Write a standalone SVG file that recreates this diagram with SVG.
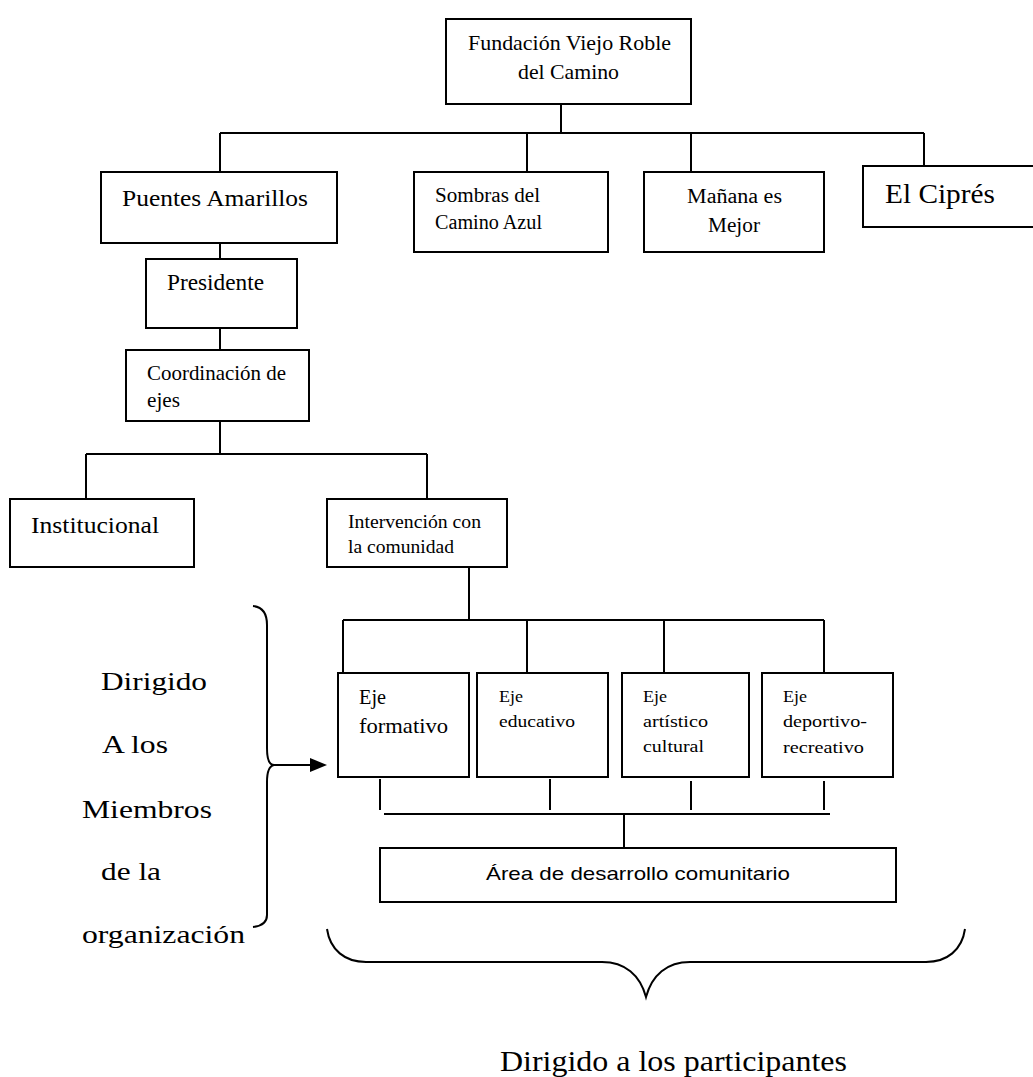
<svg xmlns="http://www.w3.org/2000/svg" width="1033" height="1077" viewBox="0 0 1033 1077">
<style>
.box{fill:#fff;stroke:#000;stroke-width:2}
.ln{fill:none;stroke:#000;stroke-width:2}
.s{font-family:"Liberation Serif","Times New Roman",serif;fill:#000}
.a{font-family:"Liberation Sans",Arial,sans-serif;fill:#000}
</style>
<rect width="1033" height="1077" fill="#fff"/>
<g id="connectors" class="ln">
<path d="M561,99 V133 M220,133 H924 M220,133 V172 M527,133 V177 M691,133 V176 M924,133 V170"/>
<path d="M220,222 V259 M220,323 V350 M220,416 V454 M86,454 H427 M86,454 V499 M427,454 V499"/>
<path d="M469,568 V620 M343,620 H824 M343,620 V673 M527,620 V673 M664,620 V673 M824,620 V673"/>
<path d="M380,779 V810 M550,779 V810 M691,781 V810 M824,781 V810 M384,814 H830 M624,814 V848"/>
</g>
<g id="n-fundacion"><rect class="box" x="446" y="19" width="245" height="85"/><text class="s" font-size="22" x="468" y="50" textLength="203" lengthAdjust="spacingAndGlyphs">Fundación Viejo Roble</text><text class="s" font-size="22" x="518" y="79" textLength="101" lengthAdjust="spacingAndGlyphs">del Camino</text></g>
<g id="n-puentes"><rect class="box" x="101" y="172" width="236" height="71"/><text class="s" font-size="24" x="122" y="206" textLength="186" lengthAdjust="spacingAndGlyphs">Puentes Amarillos</text></g>
<g id="n-sombras"><rect class="box" x="414" y="172" width="194" height="80"/><text class="s" font-size="20" x="435" y="202" textLength="105" lengthAdjust="spacingAndGlyphs">Sombras del</text><text class="s" font-size="20" x="435" y="229" textLength="107" lengthAdjust="spacingAndGlyphs">Camino Azul</text></g>
<g id="n-manana"><rect class="box" x="644" y="172" width="180" height="80"/><text class="s" font-size="20" x="687" y="203" textLength="95" lengthAdjust="spacingAndGlyphs">Mañana es</text><text class="s" font-size="20" x="708" y="232" textLength="52" lengthAdjust="spacingAndGlyphs">Mejor</text></g>
<g id="n-cipres"><rect class="box" x="863" y="166" width="180" height="61"/><text class="s" font-size="27" x="885" y="203" textLength="110" lengthAdjust="spacingAndGlyphs">El Ciprés</text></g>
<g id="n-presidente"><rect class="box" x="146" y="259" width="151" height="69"/><text class="s" font-size="23" x="167" y="290" textLength="97" lengthAdjust="spacingAndGlyphs">Presidente</text></g>
<g id="n-coordinacion"><rect class="box" x="126" y="350" width="183" height="71"/><text class="s" font-size="21" x="147" y="380" textLength="139" lengthAdjust="spacingAndGlyphs">Coordinación de</text><text class="s" font-size="21" x="147" y="407" textLength="33" lengthAdjust="spacingAndGlyphs">ejes</text></g>
<g id="n-institucional"><rect class="box" x="10" y="499" width="184" height="68"/><text class="s" font-size="24" x="31" y="533" textLength="128" lengthAdjust="spacingAndGlyphs">Institucional</text></g>
<g id="n-intervencion"><rect class="box" x="327" y="499" width="180" height="68"/><text class="s" font-size="19" x="348" y="528" textLength="133" lengthAdjust="spacingAndGlyphs">Intervención con</text><text class="s" font-size="19" x="348" y="553" textLength="106" lengthAdjust="spacingAndGlyphs">la comunidad</text></g>
<g id="n-formativo"><rect class="box" x="338" y="673" width="131" height="104"/><text class="s" font-size="21" x="359" y="704" textLength="27" lengthAdjust="spacingAndGlyphs">Eje</text><text class="s" font-size="21" x="359" y="733" textLength="89" lengthAdjust="spacingAndGlyphs">formativo</text></g>
<g id="n-educativo"><rect class="box" x="477" y="673" width="131" height="104"/><text class="s" font-size="17" x="499" y="702" textLength="24" lengthAdjust="spacingAndGlyphs">Eje</text><text class="s" font-size="17" x="499" y="727" textLength="76" lengthAdjust="spacingAndGlyphs">educativo</text></g>
<g id="n-artistico"><rect class="box" x="622" y="673" width="127" height="104"/><text class="s" font-size="17" x="643" y="702" textLength="24" lengthAdjust="spacingAndGlyphs">Eje</text><text class="s" font-size="17" x="643" y="727" textLength="65" lengthAdjust="spacingAndGlyphs">artístico</text><text class="s" font-size="17" x="643" y="752" textLength="61" lengthAdjust="spacingAndGlyphs">cultural</text></g>
<g id="n-deportivo"><rect class="box" x="762" y="673" width="131" height="104"/><text class="s" font-size="17" x="783" y="702" textLength="24" lengthAdjust="spacingAndGlyphs">Eje</text><text class="s" font-size="17" x="783" y="727" textLength="84" lengthAdjust="spacingAndGlyphs">deportivo-</text><text class="s" font-size="17" x="783" y="753" textLength="81" lengthAdjust="spacingAndGlyphs">recreativo</text></g>
<g id="n-area"><rect class="box" x="380" y="848" width="516" height="54"/><text class="a" font-size="19" x="486" y="880" textLength="304" lengthAdjust="spacingAndGlyphs">Área de desarrollo comunitario</text></g>
<g id="brace-left">
<path class="ln" d="M253,606 C263,607 267,614 267,625 L267,748 C267,758 269,765 274,765 C269,766 267,772 267,782 L267,915 C267,922 262,926 253,927"/>
<path class="ln" d="M272,765 H312"/>
<polygon points="310,758 327,765 310,772" fill="#000"/>
<text class="s" font-size="26" x="101" y="690" textLength="106" lengthAdjust="spacingAndGlyphs">Dirigido</text>
<text class="s" font-size="26" x="102" y="753" textLength="66" lengthAdjust="spacingAndGlyphs">A los</text>
<text class="s" font-size="26" x="82" y="818" textLength="130" lengthAdjust="spacingAndGlyphs">Miembros</text>
<text class="s" font-size="26" x="101" y="880" textLength="60" lengthAdjust="spacingAndGlyphs">de la</text>
<text class="s" font-size="26" x="82" y="943" textLength="163" lengthAdjust="spacingAndGlyphs">organización</text>
</g>
<g id="brace-bottom">
<path class="ln" d="M327,929 C330,950 345,962 366,962 L602,962 C625,962 640,975 646,997 C652,975 667,962 690,962 L926,962 C947,962 962,950 965,929"/>
<text class="s" font-size="30" x="500" y="1071" textLength="347" lengthAdjust="spacingAndGlyphs">Dirigido a los participantes</text>
</g>
</svg>
